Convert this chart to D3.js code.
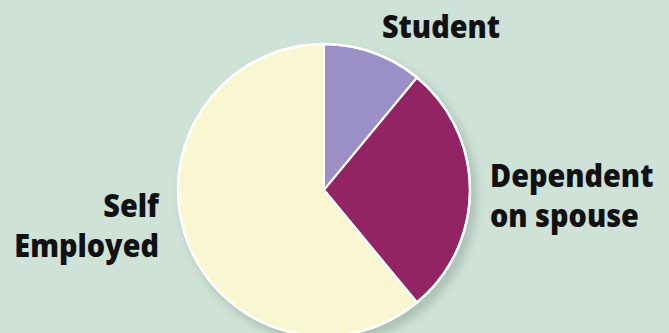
<!DOCTYPE html>
<html>
<head>
<meta charset="utf-8">
<script src="https://cdn.jsdelivr.net/npm/d3@7"></script>
<style>
  html, body { margin: 0; padding: 0; background: #cfe2d8; }
  svg { display: block; }
  text { font-family: "Open Sans", sans-serif; font-weight: 800; fill: #111; }
</style>
</head>
<body>
<script>
// slice values (percent) and labels, clockwise from 12 o'clock
var categories = [ 'Student', 'Dependent on spouse', 'Self Employed' ];
var shares = [ 11, 28, 61 ];
var labelLines = [ [ 'Student' ], [ 'Dependent', 'on spouse' ], [ 'Self', 'Employed' ] ];
var sliceColors = [ '#9a8fc6', '#922463', '#f8f7d2' ];

var width = 669, height = 333;
var cx = 324, cy = 190, radius = 146;

var svg = d3.select( 'body' ).append( 'svg' )
    .attr( 'width', width ).attr( 'height', height );

// soft shadow under the pie
var defs = svg.append( 'defs' );
var blur = defs.append( 'filter' ).attr( 'id', 'shadow' )
    .attr( 'x', '-20%' ).attr( 'y', '-20%' ).attr( 'width', '140%' ).attr( 'height', '140%' );
blur.append( 'feGaussianBlur' ).attr( 'stdDeviation', 5 );

var pie = d3.pie().sort( null ).value( function( d ){ return d; } );
var arc = d3.arc().innerRadius( 0 ).outerRadius( radius );

var g = svg.append( 'g' )
    .attr( 'transform', 'translate(' + cx + ',' + cy + ')' );

g.append( 'circle' )
    .attr( 'cx', 5 ).attr( 'cy', 6 )
    .attr( 'r', radius + 2 )
    .attr( 'fill', '#8fa79a' )
    .attr( 'opacity', 0.55 )
    .attr( 'filter', 'url(#shadow)' );

g.selectAll( 'path.slice' )
    .data( pie( shares ) )
    .enter()
    .append( 'path' )
    .attr( 'class', 'slice' )
    .attr( 'fill', function( d, i ){ return sliceColors[i]; } )
    .attr( 'stroke', '#ffffff' )
    .attr( 'stroke-width', 2 )
    .attr( 'stroke-linejoin', 'round' )
    .attr( 'd', arc );

// white rim round the whole pie
g.append( 'circle' )
    .attr( 'r', radius )
    .attr( 'fill', 'none' )
    .attr( 'stroke', '#ffffff' )
    .attr( 'stroke-width', 2.5 );

/*
 * label placement: anchor point and text-anchor for each slice,
 * tuned by eye to sit outside the pie like the original.
 * the original face is a bit condensed, so squeeze it horizontally
 */
var labelPos = [
    { x: 441, y: 38, anchor: 'middle' },
    { x: 490, y: 187, anchor: 'start' },
    { x: 159, y: 217, anchor: 'end' }
];
var lineGap = 40;
var squeeze = 0.9;

labelLines.forEach( function( lines, i ){
    var t = svg.append( 'text' )
        .attr( 'transform', 'translate(' + labelPos[i].x + ',' + labelPos[i].y + ') scale(' + squeeze + ',1)' )
        .attr( 'text-anchor', labelPos[i].anchor )
        .style( 'font-size', '32px' );
    lines.forEach( function( line, j ){
        t.append( 'tspan' )
            .attr( 'x', 0 )
            .attr( 'y', j * lineGap )
            .text( line );
    });
});
</script>
</body>
</html>
